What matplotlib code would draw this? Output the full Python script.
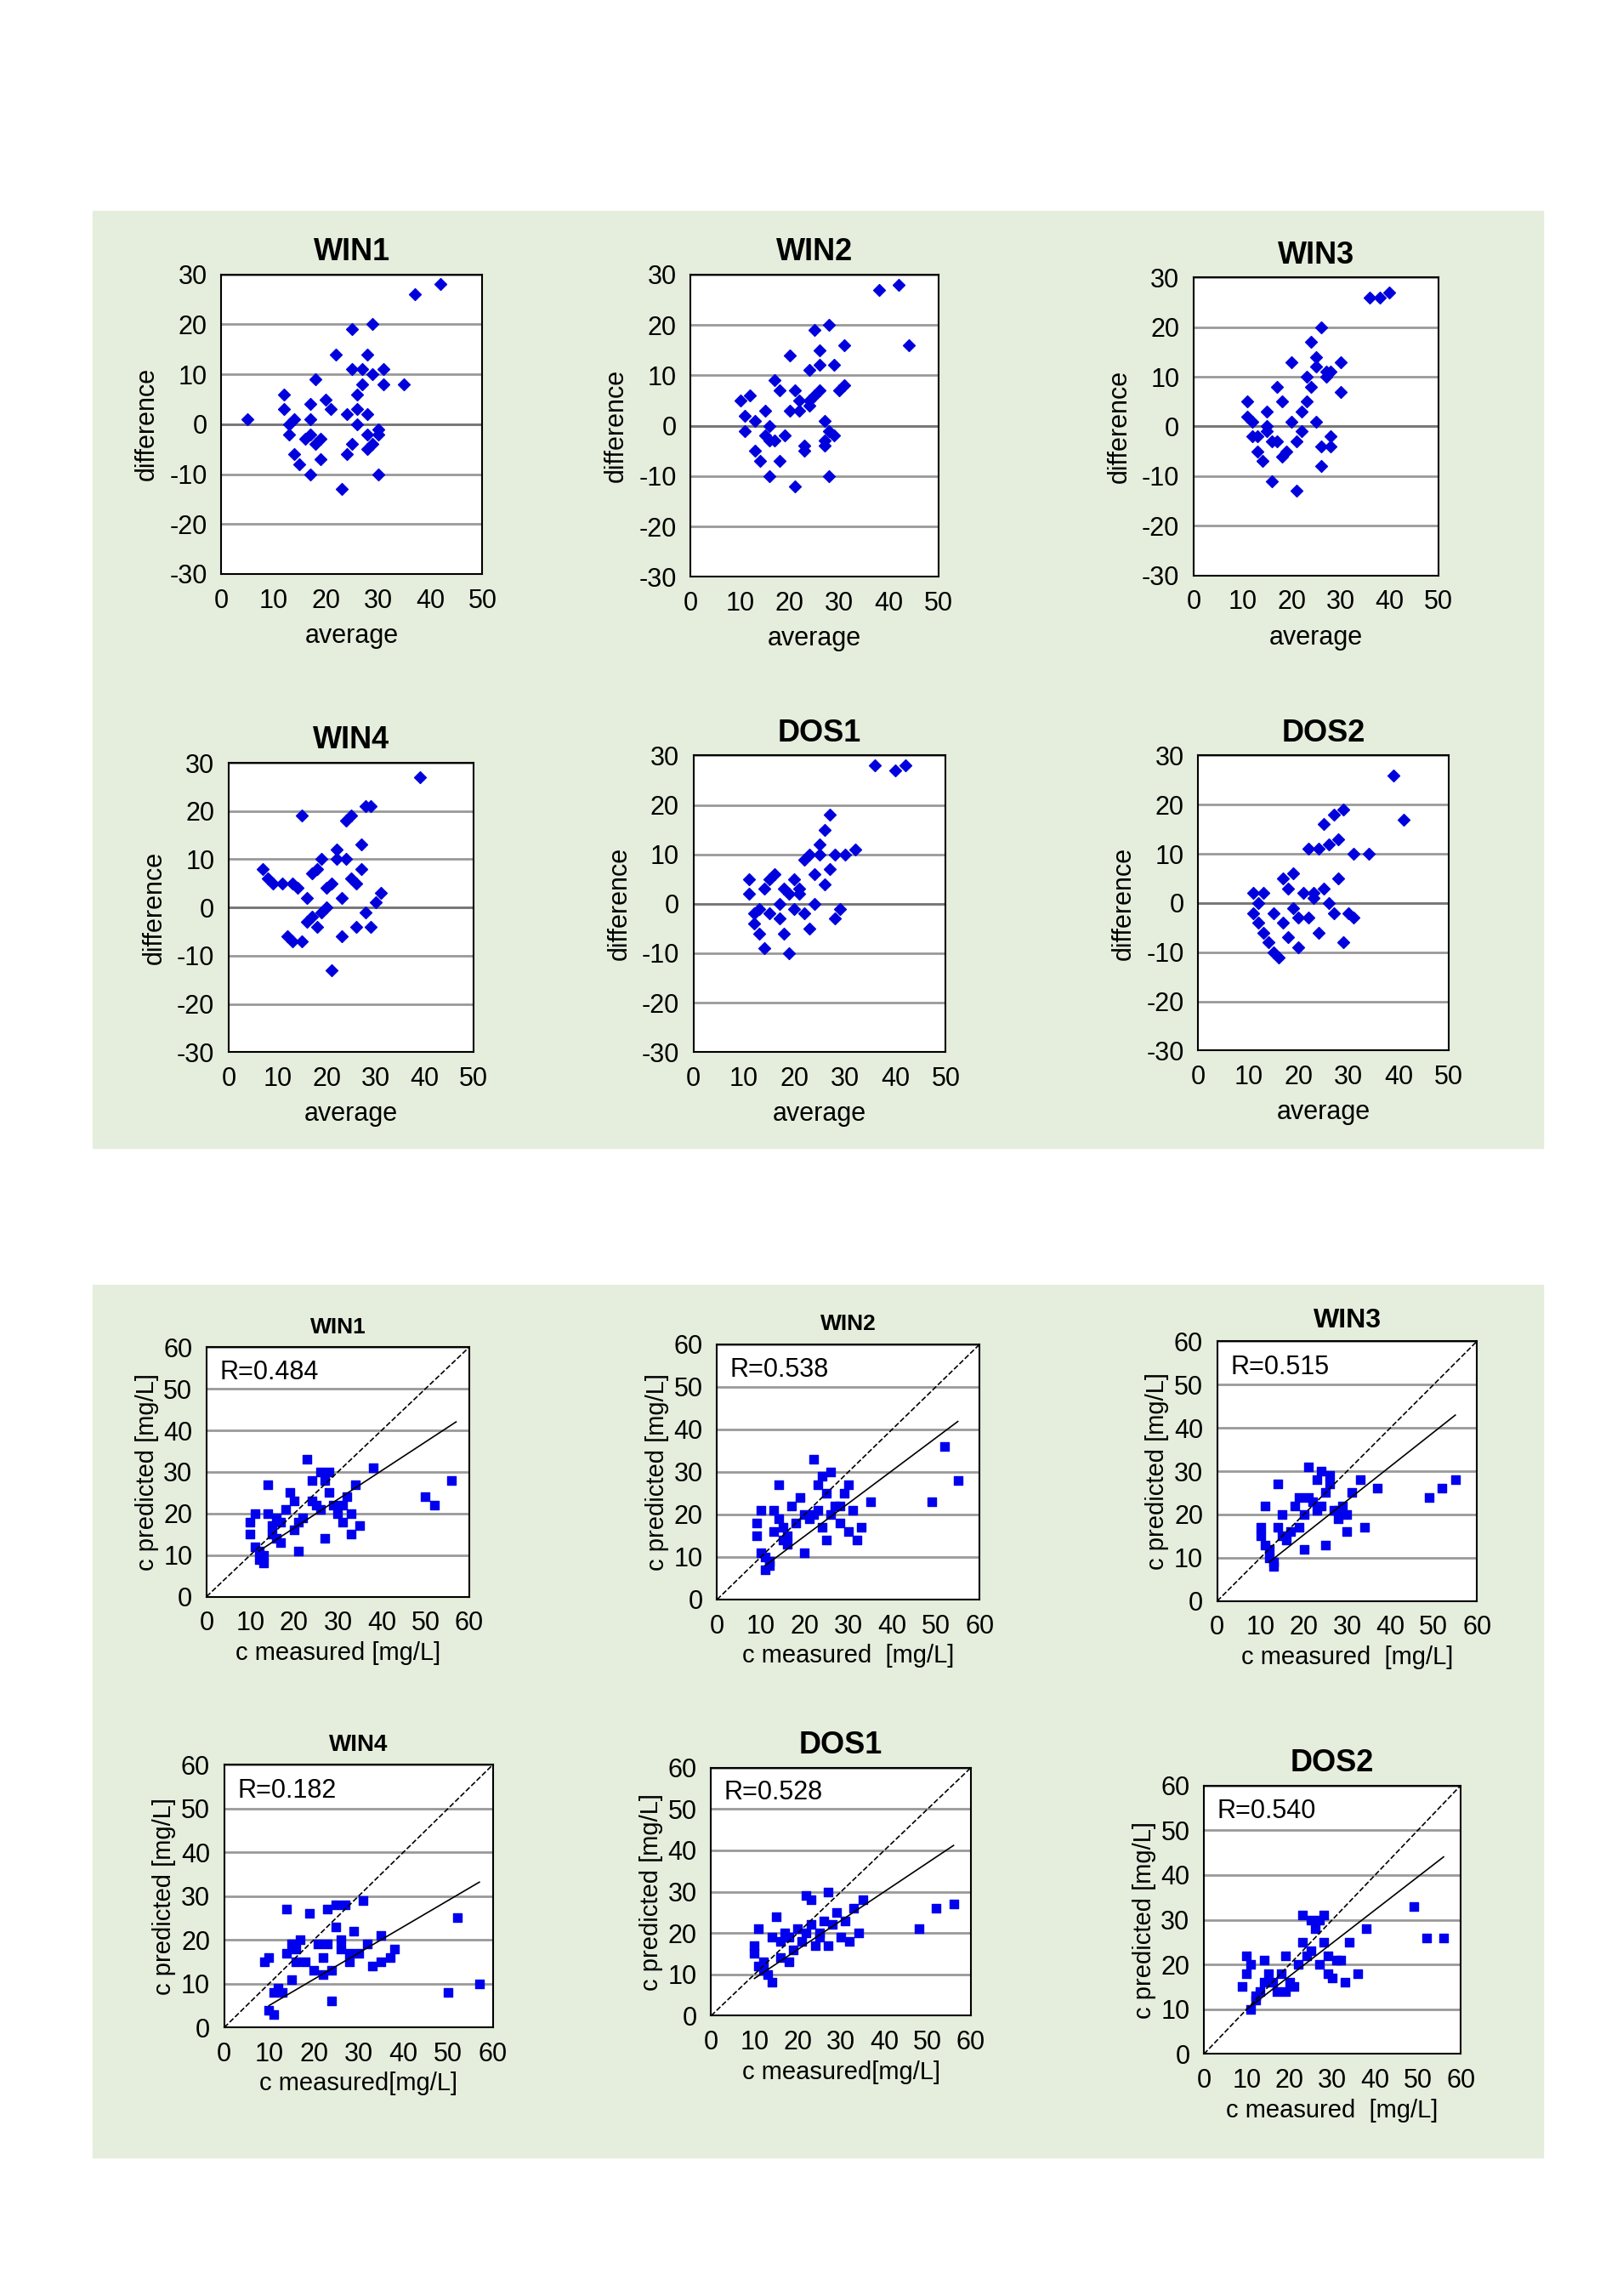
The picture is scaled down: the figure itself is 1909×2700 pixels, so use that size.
import numpy as np
import matplotlib.pyplot as plt
from matplotlib.patches import Rectangle

plt.rcParams['font.family'] = ['Liberation Sans', 'DejaVu Sans']
plt.rcParams['axes.unicode_minus'] = False

names_top = ['WIN1', 'WIN2', 'WIN3', 'WIN4', 'DOS1', 'DOS2']

# Bland-Altman data: (average, difference)
ba_win1 = [(5,1),(12,6),(12,3),(13,0),(13,-2),(14,1),(14,-6),(15,-8),(16,-3),(17,4),(17,1),(17,-2),(17,-10),(18,9),
           (18,-4),(19,-7),(19,-3),(20,5),(21,3),(22,14),(23,-13),(24,2),(24,-6),(25,-4),(25,11),(25,19),(26,3),(26,6),
           (26,0),(27,8),(27,11),(28,14),(28,2),(28,-5),(28,-2),(29,-4),(29,10),(29,20),(30,-10),(30,-1),(30,-2),(31,11),
           (31,8),(35,8),(37,26),(42,28)]
ba_win2 = [(10,5),(11,2),(11,-1),(12,6),(13,-5),(13,1),(14,-7),(15,3),(15,-2),(16,-3),(16,0),(16,-10),(17,9),(17,-3),
           (18,-7),(18,7),(19,-2),(20,3),(20,14),(21,7),(21,-12),(22,3),(22,5),(23,-4),(23,-5),(24,11),(24,5),(24,4),
           (25,19),(25,6),(26,12),(26,15),(26,7),(27,-4),(27,1),(27,-3),(28,20),(28,-10),(28,-1),(29,-2),(29,12),(30,7),
           (31,8),(31,16),(38,27),(42,28),(44,16)]
ba_win3 = [(11,5),(11,2),(12,-2),(12,1),(13,-5),(13,-2),(14,-7),(15,3),(15,0),(15,-1),(16,-3),(16,-11),(17,8),(17,-3),
           (18,-6),(18,5),(19,-5),(20,1),(20,13),(21,-3),(21,-13),(22,3),(22,-1),(23,10),(23,5),(24,8),(24,17),(25,12),
           (25,1),(25,14),(26,-8),(26,-4),(26,20),(27,11),(27,10),(28,-2),(28,-4),(28,11),(30,7),(30,13),(36,26),(38,26),(40,27)]
ba_win4 = [(7,8),(8,6),(9,5),(11,5),(12,-6),(13,5),(13,-7),(14,4),(15,-7),(15,19),(16,2),(16,-3),(17,7),(17,-2),(18,8),
           (18,-4),(19,10),(19,-1),(20,0),(20,4),(21,5),(21,-13),(22,10),(22,12),(23,-6),(23,2),(24,10),(24,18),(25,19),
           (25,6),(26,-4),(26,5),(27,13),(27,8),(28,21),(28,-1),(29,-4),(29,21),(30,1),(31,3),(39,27)]
ba_dos1 = [(11,5),(11,2),(12,-2),(12,-4),(13,-1),(13,-6),(14,3),(14,-9),(15,5),(15,-2),(16,6),(17,0),(17,-3),(18,3),
           (18,-6),(19,-10),(19,2),(20,5),(20,-1),(21,2),(21,3),(22,9),(22,-2),(23,10),(23,-5),(24,6),(24,0),(25,10),
           (25,12),(26,4),(26,15),(27,7),(27,18),(28,10),(28,-3),(29,-1),(30,10),(32,11),(36,28),(40,27),(42,28)]
ba_dos2 = [(11,2),(11,-2),(12,-4),(12,0),(13,-6),(13,2),(14,-8),(15,-2),(15,-10),(16,-11),(17,5),(17,-4),(18,3),(18,-7),
           (19,6),(19,-1),(20,-3),(20,-9),(21,2),(22,11),(22,-3),(23,1),(23,2),(24,11),(24,-6),(25,3),(25,16),(26,0),
           (26,12),(27,-2),(27,18),(28,5),(28,13),(29,-8),(29,19),(30,-2),(31,-3),(31,10),(34,10),(39,26),(41,17)]

# correlation data: (c measured, c predicted)
sc_win1 = [(10,15),(10,18),(11,20),(11,12),(12,11),(12,9),(13,10),(13,8),(14,20),(14,27),(15,17),(15,15),(16,14),(16,19),
           (17,13),(17,18),(18,21),(19,25),(20,23),(20,16),(21,11),(21,18),(22,19),(23,33),(24,23),(24,28),(25,22),(26,30),
           (26,21),(27,28),(27,14),(28,30),(28,25),(29,22),(30,20),(31,22),(31,18),(32,24),(33,15),(33,20),(34,27),(35,17),
           (38,31),(50,24),(52,22),(56,28)]
sc_win2 = [(9,15),(9,18),(10,11),(10,21),(11,10),(11,7),(12,9),(12,8),(13,16),(13,21),(14,19),(14,27),(15,14),(15,17),
           (16,15),(16,13),(17,22),(18,18),(19,24),(20,20),(20,11),(21,19),(22,33),(22,20),(23,27),(23,21),(24,29),(24,17),
           (25,25),(25,14),(26,30),(26,20),(27,22),(28,22),(28,18),(29,25),(30,27),(30,16),(31,21),(32,14),(33,17),(35,23),
           (49,23),(52,36),(55,28)]
sc_win3 = [(10,15),(10,17),(11,13),(11,22),(12,10),(12,12),(13,8),(13,9),(14,17),(14,27),(15,20),(15,15),(16,14),(17,16),
           (18,22),(19,24),(19,17),(20,12),(20,20),(21,31),(21,24),(22,23),(23,28),(23,21),(24,30),(24,22),(25,25),(25,13),
           (26,27),(26,29),(27,21),(28,19),(28,21),(29,22),(30,20),(30,16),(31,25),(33,28),(34,17),(37,26),(49,24),(52,26),(55,28)]
sc_win4 = [(9,15),(10,16),(10,4),(11,3),(11,8),(12,9),(13,8),(14,17),(14,27),(15,11),(15,19),(16,15),(16,18),(17,20),
           (18,15),(19,26),(20,13),(21,19),(22,12),(22,16),(23,27),(23,19),(24,6),(24,13),(25,28),(25,23),(26,20),(26,18),
           (27,28),(28,17),(28,15),(29,22),(30,17),(31,29),(32,19),(33,14),(35,21),(35,15),(37,16),(38,18),(50,8),(52,25),(57,10)]
sc_dos1 = [(10,15),(10,17),(11,12),(11,21),(12,11),(12,13),(13,10),(14,19),(14,8),(15,24),(16,18),(16,14),(17,20),(18,13),
           (18,19),(19,16),(20,21),(21,18),(22,20),(22,29),(23,22),(23,28),(24,17),(25,20),(25,19),(26,23),(27,30),(27,17),
           (28,22),(29,25),(30,19),(31,23),(32,18),(33,26),(34,20),(35,28),(48,21),(52,26),(56,27)]
sc_dos2 = [(9,15),(10,22),(10,18),(11,10),(11,20),(12,12),(12,13),(13,14),(14,21),(14,16),(15,18),(16,16),(17,14),(18,18),
           (19,22),(19,14),(20,16),(21,15),(22,20),(23,25),(23,31),(24,22),(25,30),(25,23),(26,28),(27,30),(27,20),(28,31),
           (28,25),(29,22),(29,18),(30,17),(31,21),(32,21),(33,16),(34,25),(36,18),(38,28),(49,33),(52,26),(56,26)]

r_values = ['R=0.484', 'R=0.538', 'R=0.515', 'R=0.182', 'R=0.528', 'R=0.540']
fit_slope = [0.69, 0.77, 0.79, 0.60, 0.70, 0.74]
fit_intercept = [2.7, -0.5, -0.5, -1.0, 2.0, 2.6]
fit_range = [(12, 57), (11, 55), (12, 55), (10, 57), (10, 56), (10, 56)]

ba_sets = [ba_win1, ba_win2, ba_win3, ba_win4, ba_dos1, ba_dos2]
sc_sets = [sc_win1, sc_win2, sc_win3, sc_win4, sc_dos1, sc_dos2]

W, H = 1100.0, 1556.0
fig = plt.figure(figsize=(19.09, 27.0), dpi=100)
bg = '#e5eedc'


def box(x0, y0, x1, y1):
    return [x0 / W, 1 - y1 / H, (x1 - x0) / W, (y1 - y0) / H]


fig.patches.append(Rectangle((63 / W, 1 - 778 / H), (1046 - 63) / W, (778 - 143) / H,
                             transform=fig.transFigure, color=bg, zorder=-10))
fig.patches.append(Rectangle((63 / W, 1 - 1462 / H), (1046 - 63) / W, (1462 - 871) / H,
                             transform=fig.transFigure, color=bg, zorder=-10))


def style(ax):
    ax.set_facecolor('white')
    ax.grid(axis='y', color='#999999', lw=2)
    ax.set_axisbelow(True)
    for s in ax.spines.values():
        s.set_color('black')
        s.set_linewidth(1.5)
    ax.tick_params(length=0, labelsize=22, pad=12)


top_pos = [(150, 186, 327, 389), (468, 186, 636, 391), (809, 188, 975, 390),
           (155, 517, 321, 713), (470, 512, 641, 713), (812, 512, 982, 712)]
for i, name in enumerate(names_top):
    ax = fig.add_axes(box(*top_pos[i]))
    style(ax)
    pts = np.array(ba_sets[i])
    ax.scatter(pts[:, 0], pts[:, 1], marker='D', s=50, color='#0000dd', zorder=3)
    ax.axhline(0, color='#777777', lw=2, zorder=1)
    ax.set_xlim(0, 50)
    ax.set_ylim(-30, 30)
    ax.set_xticks(range(0, 51, 10))
    ax.set_yticks(range(-30, 31, 10))
    ax.set_title(name, fontsize=26, fontweight='bold', pad=12)
    ax.set_xlabel('average', fontsize=22, labelpad=8)
    ax.set_ylabel('difference', fontsize=22, labelpad=8)

bot_pos = [(140, 913, 318, 1082), (486, 911, 664, 1084), (825, 909, 1001, 1085),
           (152, 1196, 334, 1374), (482, 1198, 658, 1366), (816, 1210, 990, 1392)]
xlabels = ['c measured [mg/L]', 'c measured  [mg/L]', 'c measured  [mg/L]',
           'c measured[mg/L]', 'c measured[mg/L]', 'c measured  [mg/L]']
title_sizes = [19, 19, 23, 20, 26, 26]
for i, name in enumerate(names_top):
    ax = fig.add_axes(box(*bot_pos[i]))
    style(ax)
    pts = np.array(sc_sets[i])
    ax.scatter(pts[:, 0], pts[:, 1], marker='s', s=60, color='#0000ee', zorder=3)
    ax.plot([0, 60], [0, 60], 'k--', lw=1.2, zorder=4)
    xs = np.array(fit_range[i])
    ax.plot(xs, fit_slope[i] * xs + fit_intercept[i], 'k-', lw=1.2, zorder=4)
    ax.set_xlim(0, 60)
    ax.set_ylim(0, 60)
    ax.set_xticks(range(0, 61, 10))
    ax.set_yticks(range(0, 61, 10))
    ax.text(0.05, 0.95, r_values[i], transform=ax.transAxes, fontsize=22, va='top', ha='left')
    ax.set_title(name, fontsize=title_sizes[i], fontweight='bold', pad=12)
    ax.set_xlabel(xlabels[i], fontsize=21, labelpad=4)
    ax.set_ylabel('c predicted [mg/L]', fontsize=21)

fig.savefig('out.png', dpi=100)
